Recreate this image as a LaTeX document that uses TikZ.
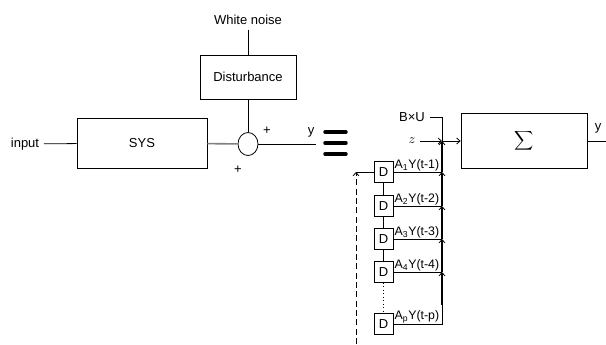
\documentclass[tikz,border=0pt]{standalone}
\usepackage{fontspec}
\setmainfont{Liberation Sans}
\usetikzlibrary{positioning,shapes.geometric,arrows.meta}

\begin{document}
\begin{tikzpicture}[x=0.75pt, y=-0.75pt,
        font=\fontsize{9.75}{11}\selectfont,
        line width=0.6pt,
        >={Straight Barb[length=2.5pt, width=4.5pt, line width=0.6pt]},
        block/.style={rectangle, draw, inner sep=0pt},
        delay/.style={rectangle, draw, inner sep=0pt, minimum width=14.25pt, minimum height=15.75pt},
        tap/.style={inner sep=0.6pt, anchor=south west, font=\fontsize{9.25}{11}\selectfont},
        bus/.style={->, line width=1.3pt}]
    \useasboundingbox (0,0) rectangle (606,344);

    % system with disturbance
    \node (in) at (25,144) {input};
    \node (sys) [block, minimum width=97.5pt, minimum height=37.5pt] at (142,143) {SYS};
    \node (wn) at (248,20) {White noise};
    \node (dist) [block, minimum width=72pt, minimum height=33pt] at (248,77) {Disturbance};
    \node (add) [ellipse, draw, inner sep=0pt, minimum width=15pt, minimum height=17.25pt] at (248,144) {};
    \node (plusa) at (267,131) {+};
    \node (plusb) at (238,170) {+};
    \node (ylab) at (311,132) {y};
    \coordinate (yend) at (316,144);

    \draw (in) -- (sys);
    \draw[gray, line width=1.2pt] (sys) -- (add);
    \draw (wn) -- (dist);
    \draw (dist) -- (add);
    \draw (add) -- (yend);

    % equivalence sign
    \foreach \yy in {132,143,154}
        \draw[line width=2.6pt, line cap=round] (325,\yy) -- (346,\yy);

    % summation block
    \node (sigma) [block, minimum width=94.5pt, minimum height=41.25pt] at (524,141) {\fontsize{16}{18}\selectfont$\displaystyle\sum$};
    \node (yout) at (598,128) {y};
    \coordinate (out) at (606,141);
    \node (bu) at (412,117) {B×U};
    \node (z) at (412,141) {$z$};
    \coordinate (cross) at (442,141);

    \draw (sigma) -- (out);
    \draw (bu) -| (cross);
    \draw[->] (z) -- (cross);
    \draw[->] (cross) -- (sigma);

    % delay chain
    \foreach \nm/\yy in {d1/172, d2/206, d3/239, d4/272, dp/324} {
        \node (\nm) [delay] at (383.5,\yy) {D};
        \coordinate (b\nm) at (442,\yy);
    }
    \foreach \nm/\i in {d1/1, d2/2, d3/3, d4/4, dp/p}
        \node (l\nm) [tap] at (\nm.east) {A\textsubscript{\i}Y(t-\i)};

    \draw (d1) -- (d2);
    \draw (d2) -- (d3);
    \draw (d3) -- (d4);
    \draw[dotted] (d4) -- (dp);
    \foreach \nm in {d1,d2,d3,d4}
        \draw (\nm) -- (b\nm);

    % bus into the sum
    \coordinate (bmid) at (442,305);
    \draw (dp) -- (bdp) -- (bmid);
    \draw[bus] (bmid) -- (bd4);
    \draw[bus] (bd4) -- (bd3);
    \draw[bus] (bd3) -- (bd2);
    \draw[bus] (bd2) -- (bd1);
    \draw[bus] (bd1) -- (cross);

    % feedback
    \coordinate (fbot) at (356,344);
    \coordinate (fcor) at (356,172);
    \draw[->, dash pattern=on 4.5pt off 2.5pt] (fbot) -- (fcor);
    \draw (fcor) -- (d1);
\end{tikzpicture}
\end{document}
